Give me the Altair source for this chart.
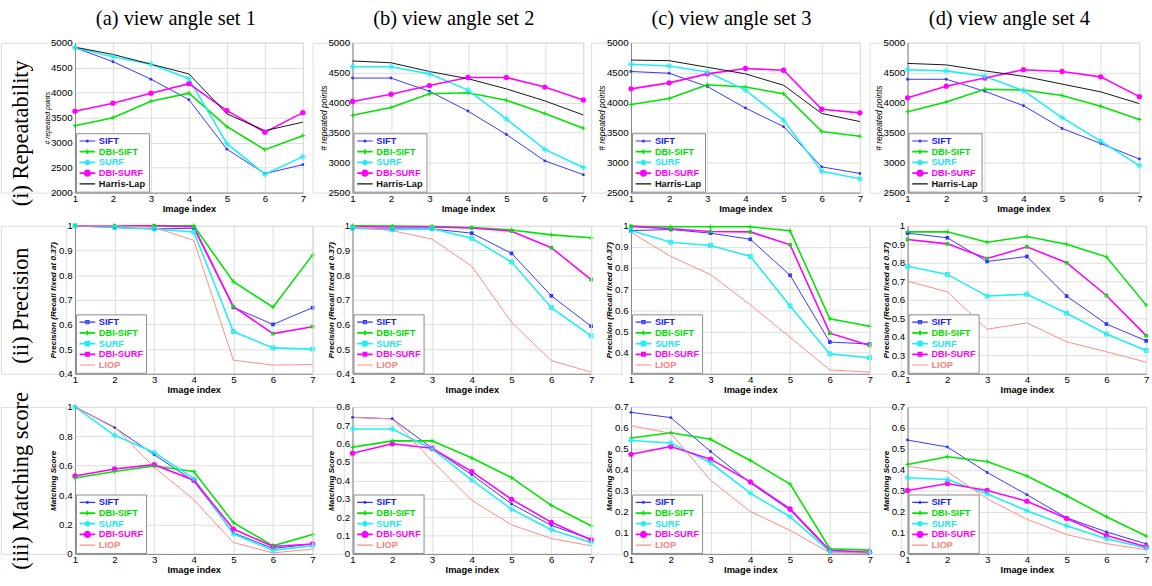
import altair as alt
import pandas as pd

# ---------------- data ----------------
IMAGE_INDEX = [1, 2, 3, 4, 5, 6, 7]
COL_TITLES = ["(a) view angle set 1", "(b) view angle set 2", "(c) view angle set 3", "(d) view angle set 4"]
ROW_LABELS = ["(i) Repeatability", "(ii) Precision", "(iii) Matching score"]
Y_TITLES = ["# repeated points", "Precision (Recall fixed at 0.37)", "Matching Score"]
X_TITLE = "Image index"

SERIES_REP = ["SIFT", "DBI-SIFT", "SURF", "DBI-SURF", "Harris-Lap"]
SERIES_PM = ["SIFT", "DBI-SIFT", "SURF", "DBI-SURF", "LIOP"]

# Repeatability (# repeated points); one list per view angle set (a)-(d)
REP_SIFT = [[4900, 4620, 4270, 3860, 2870, 2380, 2560],
            [4410, 4410, 4190, 3860, 3470, 3030, 2800],
            [4520, 4490, 4270, 3910, 3600, 2930, 2820],
            [4390, 4390, 4190, 3950, 3570, 3320, 3060]]
REP_DBI_SIFT = [[3340, 3500, 3830, 3990, 3320, 2860, 3140],
                [3790, 3920, 4150, 4165, 4040, 3820, 3575],
                [3970, 4070, 4300, 4260, 4150, 3520, 3440],
                [3850, 4010, 4225, 4210, 4120, 3940, 3720]]
REP_SURF = [[4900, 4720, 4570, 4280, 2980, 2370, 2720],
            [4600, 4600, 4480, 4210, 3730, 3220, 2920],
            [4640, 4610, 4510, 4210, 3710, 2855, 2730],
            [4550, 4530, 4440, 4200, 3750, 3360, 2950]]
REP_DBI_SURF = [[3630, 3790, 3990, 4180, 3640, 3210, 3600],
                [4020, 4140, 4285, 4420, 4420, 4260, 4045],
                [4230, 4330, 4480, 4570, 4540, 3890, 3830],
                [4080, 4275, 4410, 4550, 4520, 4430, 4100]]
REP_HARRIS = [[4910, 4765, 4570, 4375, 3575, 3240, 3410],
              [4695, 4665, 4520, 4400, 4230, 4030, 3795],
              [4710, 4700, 4590, 4480, 4290, 3820, 3685],
              [4655, 4630, 4530, 4440, 4310, 4180, 3985]]

# Precision (recall fixed at 0.37)
PRE_SIFT = [[1.0, 0.993, 0.987, 0.99, 0.669, 0.600, 0.668],
            [0.989, 0.987, 0.987, 0.970, 0.888, 0.716, 0.593],
            [0.977, 0.982, 0.965, 0.936, 0.766, 0.450, 0.441],
            [0.960, 0.935, 0.807, 0.834, 0.620, 0.469, 0.378]]
PRE_DBI_SIFT = [[1.0, 1.0, 1.0, 1.0, 0.773, 0.670, 0.882],
                [1.0, 0.999, 0.997, 0.993, 0.983, 0.963, 0.951],
                [0.998, 0.995, 0.995, 0.995, 0.976, 0.560, 0.525],
                [0.967, 0.967, 0.911, 0.942, 0.900, 0.832, 0.571]]
PRE_SURF = [[1.0, 0.993, 0.987, 0.975, 0.571, 0.505, 0.500],
            [0.991, 0.984, 0.988, 0.949, 0.853, 0.668, 0.554],
            [0.977, 0.922, 0.907, 0.855, 0.621, 0.394, 0.376],
            [0.781, 0.737, 0.620, 0.630, 0.527, 0.415, 0.326]]
PRE_DBI_SURF = [[1.0, 1.0, 1.0, 0.996, 0.672, 0.563, 0.591],
                [0.997, 0.995, 0.995, 0.991, 0.978, 0.911, 0.782],
                [0.997, 0.986, 0.973, 0.971, 0.910, 0.492, 0.434],
                [0.926, 0.902, 0.823, 0.886, 0.800, 0.623, 0.406]]
PRE_LIOP = [[1.0, 1.0, 0.993, 0.941, 0.455, 0.435, 0.438],
            [0.997, 0.980, 0.946, 0.836, 0.609, 0.453, 0.407],
            [0.969, 0.855, 0.769, 0.626, 0.473, 0.318, 0.308],
            [0.700, 0.643, 0.441, 0.475, 0.373, 0.319, 0.263]]

# Matching score
MAT_SIFT = [[1.0, 0.859, 0.675, 0.495, 0.143, 0.037, 0.068],
            [0.743, 0.735, 0.576, 0.431, 0.272, 0.155, 0.081],
            [0.674, 0.649, 0.488, 0.338, 0.208, 0.012, 0.006],
            [0.542, 0.509, 0.388, 0.282, 0.172, 0.105, 0.048]]
MAT_DBI_SIFT = [[0.516, 0.560, 0.598, 0.560, 0.213, 0.055, 0.132],
                [0.580, 0.615, 0.615, 0.522, 0.415, 0.264, 0.153],
                [0.552, 0.577, 0.546, 0.445, 0.333, 0.025, 0.018],
                [0.426, 0.463, 0.440, 0.371, 0.277, 0.177, 0.085]]
MAT_SURF = [[1.0, 0.807, 0.690, 0.512, 0.136, 0.024, 0.055],
            [0.680, 0.680, 0.571, 0.402, 0.243, 0.132, 0.062],
            [0.540, 0.528, 0.434, 0.289, 0.177, 0.011, 0.006],
            [0.363, 0.354, 0.286, 0.206, 0.134, 0.072, 0.028]]
MAT_DBI_SURF = [[0.530, 0.578, 0.607, 0.501, 0.169, 0.051, 0.068],
                [0.548, 0.599, 0.575, 0.448, 0.297, 0.172, 0.076],
                [0.474, 0.511, 0.451, 0.343, 0.214, 0.017, 0.008],
                [0.302, 0.335, 0.302, 0.251, 0.169, 0.088, 0.034]]
MAT_LIOP = [[1.0, 0.864, 0.589, 0.369, 0.077, 0.007, 0.033],
            [0.743, 0.735, 0.506, 0.292, 0.158, 0.084, 0.044],
            [0.611, 0.574, 0.351, 0.202, 0.112, 0.005, 0.003],
            [0.417, 0.392, 0.263, 0.165, 0.092, 0.049, 0.020]]

REP_Y_DOMAIN = [[2000, 5000], [2500, 5000], [2500, 5000], [2500, 5000]]
REP_Y_TICKS = [[2000, 2500, 3000, 3500, 4000, 4500, 5000]] + [[2500, 3000, 3500, 4000, 4500, 5000]] * 3
PRE_Y_DOMAIN = [[0.4, 1], [0.4, 1], [0.3, 1], [0.2, 1]]
PRE_Y_TICKS = [[0.4, 0.5, 0.6, 0.7, 0.8, 0.9, 1]] * 3 + [[0.2, 0.3, 0.4, 0.5, 0.6, 0.7, 0.8, 0.9, 1]]
MAT_Y_DOMAIN = [[0, 1], [0, 0.8], [0, 0.7], [0, 0.7]]
MAT_Y_TICKS = [[0, 0.2, 0.4, 0.6, 0.8, 1],
               [0, 0.1, 0.2, 0.3, 0.4, 0.5, 0.6, 0.7, 0.8],
               [0, 0.1, 0.2, 0.3, 0.4, 0.5, 0.6, 0.7],
               [0, 0.1, 0.2, 0.3, 0.4, 0.5, 0.6, 0.7]]

# ---------------- styles ----------------
SANS = "Liberation Sans"
SERIF = "Liberation Serif"
LINE_COLORS = {"SIFT": "#3333ff", "DBI-SIFT": "#00e400", "SURF": "#22eef2",
               "DBI-SURF": "#ff00ff", "Harris-Lap": "#111111", "LIOP": "#ff8a84"}
LABEL_COLORS = {"SIFT": "#1a1aff", "DBI-SIFT": "#00dd00", "SURF": "#22e6f0",
                "DBI-SURF": "#ff00ff", "Harris-Lap": "#111111", "LIOP": "#ff8080"}
LINE_W = {"SIFT": 1.0, "DBI-SIFT": 1.6, "SURF": 1.6, "DBI-SURF": 1.6, "Harris-Lap": 1.0, "LIOP": 1.0}

PLUS = "M-1,0L1,0M0,-1L0,1"
STAR = "M-1,0L1,0M0,-1L0,1M-0.7,-0.7L0.7,0.7M-0.7,0.7L0.7,-0.7"
BOXX = "M-1,-1L1,-1L1,1L-1,1ZM-1,-1L1,1M-1,1L1,-1"
# (color, shape, size, filled)
MARK_RM = {"SIFT": ("#3333ff", "circle", 9, 1), "DBI-SIFT": ("#00e400", PLUS, 22, 0),
           "SURF": ("#22eef2", STAR, 40, 0), "DBI-SURF": ("#ff00ff", "circle", 30, 1)}
MARK_P = {"SIFT": ("#3333ff", "square", 14, 1), "DBI-SIFT": ("#00e400", PLUS, 22, 0),
          "SURF": ("#22eef2", BOXX, 16, 0), "DBI-SURF": ("#22cc22", "square", 14, 1)}

# legend symbols: a short line with the series marker (unit = 4 px)
L = "M-2,0L2,0"
LEG_SYM_RM = {"SIFT": L + "M0.25,0A0.25,0.25,0,1,1,-0.25,0A0.25,0.25,0,1,1,0.25,0",
              "DBI-SIFT": L + "M0,-0.6L0,0.6",
              "SURF": L + "M0,-0.7L0,0.7M-0.5,-0.5L0.5,0.5M-0.5,0.5L0.5,-0.5",
              "DBI-SURF": L + "M0.7,0A0.7,0.7,0,1,1,-0.7,0A0.7,0.7,0,1,1,0.7,0M0.35,0A0.35,0.35,0,1,1,-0.35,0A0.35,0.35,0,1,1,0.35,0",
              "Harris-Lap": L, "LIOP": L}
LEG_SYM_P = {"SIFT": L + "M-0.4,-0.4L0.4,-0.4L0.4,0.4L-0.4,0.4Z",
             "DBI-SIFT": L + "M0,-0.6L0,0.6",
             "SURF": L + "M-0.5,-0.5L0.5,-0.5L0.5,0.5L-0.5,0.5ZM-0.5,-0.5L0.5,0.5M-0.5,0.5L0.5,-0.5",
             "DBI-SURF": L + "M-0.4,-0.4L0.4,-0.4L0.4,0.4L-0.4,0.4Z",
             "LIOP": L}

# layout (pixels): left label column, plot widths and the gaps between plots, per row
LABEL_W = [76, 67, 67]
PLOT_W = [[234, 237, 235, 238], [244, 245, 245, 245], [244, 245, 245, 245]]
GAP_W = [[41, 41, 39], [32, 31, 32], [32, 31, 32]]
PLOT_H = [154, 152, 151]
LABEL_YC = [93, 82, 76]


def switch_expr(mapping, series, default):
    e = default
    for s in reversed(series):
        e = f"datum.label === '{s}' ? {mapping[s]} : {e}"
    return e


def build_df(series, data_lists, k, marks):
    rows = []
    for s, vals in zip(series, data_lists):
        m = marks.get(s)
        for xi, v in zip(IMAGE_INDEX, vals[k]):
            rows.append(dict(x=xi, v=v, series=s, lw=LINE_W[s],
                             mcolor=m[0] if m else "none", mshape=m[1] if m else "circle",
                             msize=m[2] if m else 0, mfill=m[3] if m else -1))
    return pd.DataFrame(rows)


def panel(r, k, series, data_lists, marks, legsym, domain, ticks, fmt):
    df = build_df(series, data_lists, k, marks)
    w, h = PLOT_W[r][k], PLOT_H[r]
    ext = 23 if r == 0 else 16
    tsize = (7 if k == 0 else 8.7) if r == 0 else 8.3
    tweight = "normal" if r == 0 else "bold"
    x = alt.X("x:Q", scale=alt.Scale(domain=[1, 7], nice=False),
              axis=alt.Axis(values=IMAGE_INDEX, format="d", title=X_TITLE, labelFlush=False,
                            ticks=False, labelPadding=1, titlePadding=0, titleFontSize=9.5,
                            titleFontWeight="bold"))
    y = alt.Y("v:Q", scale=alt.Scale(domain=domain, nice=False, zero=False),
              axis=alt.Axis(values=ticks, format=fmt, title=Y_TITLES[r], ticks=False,
                            labelPadding=3, minExtent=ext, maxExtent=ext, titlePadding=2,
                            titleFontSize=tsize, titleFontStyle="italic", titleFontWeight=tweight))
    lab_expr = switch_expr({s: f"'{LABEL_COLORS[s]}'" for s in series}, series, "'black'")
    sym_expr = switch_expr({s: f"'{legsym[s]}'" for s in series}, series, "'stroke'")
    sw_expr = switch_expr({s: str(LINE_W[s] + 0.2) for s in series}, series, "1")
    legend = alt.Legend(title=None, orient="bottom-left", offset=1, padding=3,
                        strokeColor="#8a8a8a", fillColor="white",
                        labelFont=SANS, labelFontSize=9.5, labelFontWeight="bold",
                        labelColor=alt.ExprRef(expr=lab_expr),
                        symbolType=alt.ExprRef(expr=sym_expr),
                        symbolStrokeWidth=alt.ExprRef(expr=sw_expr),
                        symbolSize=64, symbolOffset=4, labelOffset=7, rowPadding=1,
                        clipHeight=10)
    base = alt.Chart(df)
    lines = base.mark_line().encode(
        x=x, y=y,
        color=alt.Color("series:N", scale=alt.Scale(domain=series, range=[LINE_COLORS[s] for s in series]),
                        legend=legend, sort=series),
        strokeWidth=alt.StrokeWidth("lw:Q", scale=None),
    )
    pts_f = base.transform_filter("datum.mfill == 1").mark_point(filled=True, opacity=1).encode(
        x=x, y=y, fill=alt.Fill("mcolor:N", scale=None),
        shape=alt.Shape("mshape:N", scale=None), size=alt.Size("msize:Q", scale=None))
    pts_s = base.transform_filter("datum.mfill == 0").mark_point(filled=False, opacity=1, strokeWidth=1).encode(
        x=x, y=y, stroke=alt.Stroke("mcolor:N", scale=None),
        shape=alt.Shape("mshape:N", scale=None), size=alt.Size("msize:Q", scale=None))
    ch = alt.layer(lines, pts_f, pts_s).properties(width=w, height=h)
    if r == 0:
        ch = ch.properties(title=alt.TitleParams(COL_TITLES[k], font=SERIF, fontSize=21,
                                                 fontWeight="normal", color="black",
                                                 anchor="middle", frame="bounds", offset=9))
    return ch


def row_label(r):
    return alt.Chart(pd.DataFrame({"t": [ROW_LABELS[r]]})).mark_text(
        angle=270, font=SERIF, fontSize=23, align="center", baseline="middle", color="black"
    ).encode(text="t:N", x=alt.value(21), y=alt.value(LABEL_YC[r])).properties(
        width=LABEL_W[r], height=PLOT_H[r])


def spacer(w, h):
    # invisible layout cell (no data marks shown)
    return alt.Chart(pd.DataFrame({"a": [0]})).mark_point(opacity=0).encode(
        x=alt.value(0), y=alt.value(0)).properties(width=w, height=h)


rows_spec = [
    (SERIES_REP, [REP_SIFT, REP_DBI_SIFT, REP_SURF, REP_DBI_SURF, REP_HARRIS], MARK_RM, LEG_SYM_RM,
     REP_Y_DOMAIN, REP_Y_TICKS, "d"),
    (SERIES_PM, [PRE_SIFT, PRE_DBI_SIFT, PRE_SURF, PRE_DBI_SURF, PRE_LIOP], MARK_P, LEG_SYM_P,
     PRE_Y_DOMAIN, PRE_Y_TICKS, "~g"),
    (SERIES_PM, [MAT_SIFT, MAT_DBI_SIFT, MAT_SURF, MAT_DBI_SURF, MAT_LIOP], MARK_RM, LEG_SYM_RM,
     MAT_Y_DOMAIN, MAT_Y_TICKS, "~g"),
]

cells = []
for r, (series, dl, marks, legsym, doms, tks, fmt) in enumerate(rows_spec):
    cells.append(row_label(r))
    for k in range(4):
        cells.append(panel(r, k, series, dl, marks, legsym, doms[k], tks[k], fmt))
        if k < 3:
            cells.append(spacer(GAP_W[r][k], PLOT_H[r]))

chart = alt.concat(*cells, columns=8, spacing={"row": 34, "column": 0}, bounds="flush", align="none",
                   padding={"left": 0, "top": 0, "right": 0, "bottom": 0}).resolve_scale(
    x="independent", y="independent", color="independent").resolve_legend(color="independent").configure_view(
    stroke=None).configure_axis(
    grid=False, domainColor="#222222", domainWidth=1, labelFont=SANS, labelFontSize=9.5,
    labelFontWeight="bold", labelColor="black", titleFont=SANS, titleColor="black").configure(
    background="white")

chart.save("out.html", embed_options={"renderer": "svg", "actions": False})
